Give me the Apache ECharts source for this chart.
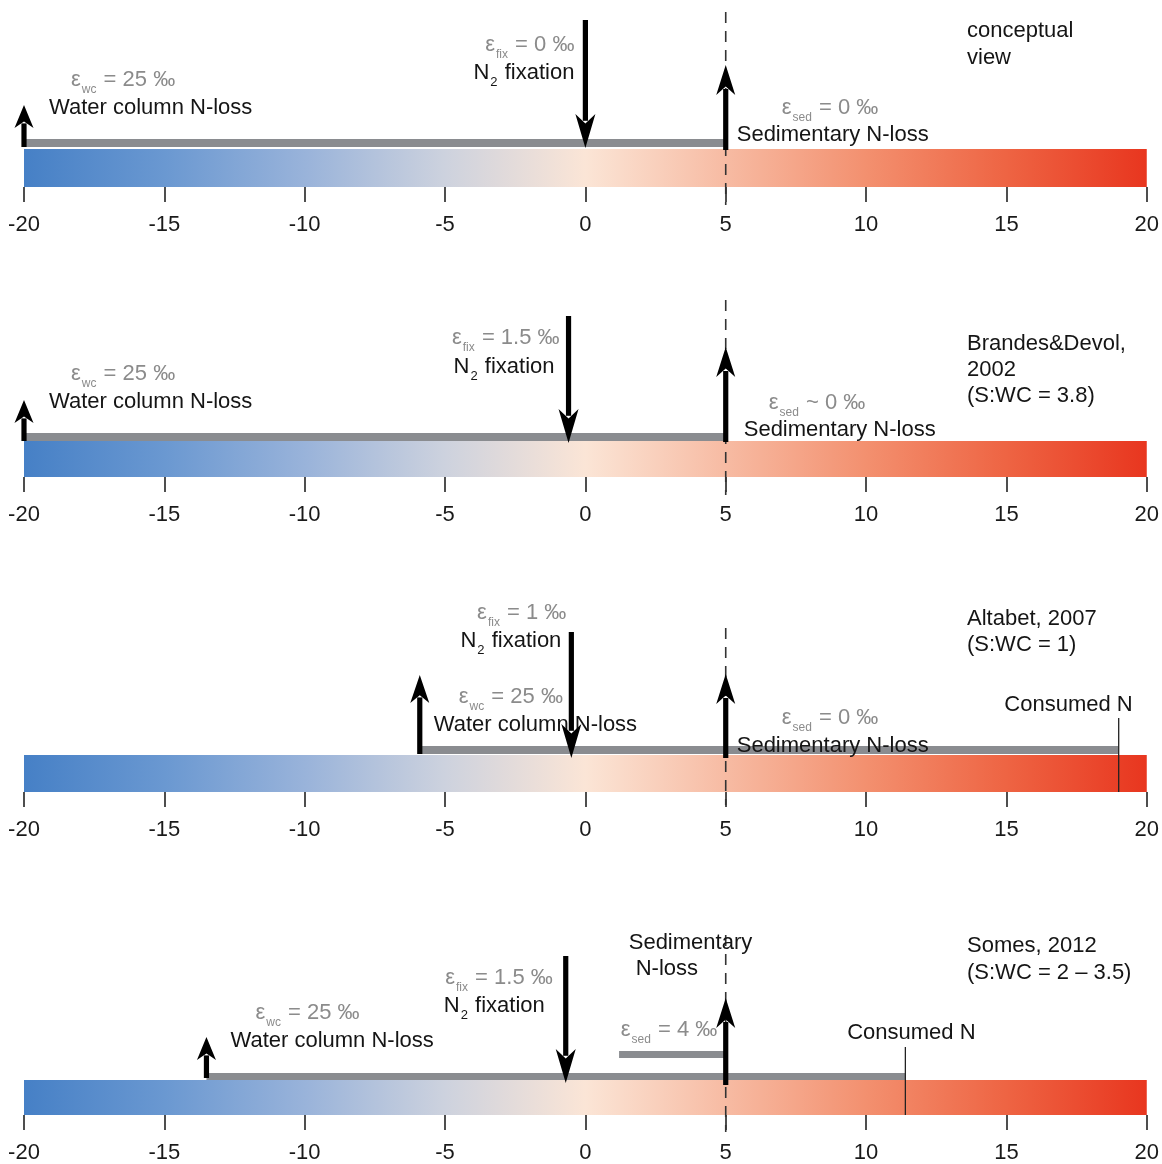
<!DOCTYPE html>
<html><head><meta charset="utf-8">
<script src="https://cdn.jsdelivr.net/npm/echarts@6/dist/echarts.min.js"></script>
<style>html,body{margin:0;padding:0;background:#fff}#chart{width:1162px;height:1164px}</style>
</head><body><div id="chart"></div>
<script>
// ---------------- data ----------------
const axisMin = -20, axisMax = 20, tickStep = 5;
const panelTitles = [
  ['conceptual', 'view'],
  ['Brandes&Devol,', '2002', '(S:WC = 3.8)'],
  ['Altabet, 2007', '(S:WC = 1)'],
  ['Somes, 2012', '(S:WC = 2 \u2013 3.5)']
];
const wcLossX   = [-20, -20, -5.9, -13.5];   // water column N-loss arrow / start of consumed range
const fixX      = [0, -0.6, -0.5, -0.7];     // N2 fixation arrow
const sedX      = [5, 5, 5, 5];              // sedimentary N-loss arrow
const refLineX  = 5;                         // dashed reference line
const consumedX = [null, null, 19, 11.4];    // consumed N marker
const sedBarStart = [null, null, null, 1.2]; // sedimentary fractionation range start
const epsWc  = ['= 25 \u2030', '= 25 \u2030', '= 25 \u2030', '= 25 \u2030'];
const epsFix = ['= 0 \u2030', '= 1.5 \u2030', '= 1 \u2030', '= 1.5 \u2030'];
const epsSed = ['= 0 \u2030', '~ 0 \u2030', '= 0 \u2030', '= 4 \u2030'];
const sedLabel = [['Sedimentary N-loss'], ['Sedimentary N-loss'], ['Sedimentary N-loss'], ['Sedimentary', 'N-loss']];

// ---------------- layout (pixels, relative to bar top / mark x) ----------------
const gridTop = [149, 441, 755, 1080];
const gridH = [38, 36, 37, 36];
const L = [
  { grey:[-10,-2], fixTop:-129, fixTip:-1, sedTip:-84, sedBase:1, wcTip:-44, wcBase:-2, wcHead:[23,19], dash:[-137,56],
    epsWc:[47,-69], wcTxt:[25,-41], epsFix:[-11,-104,'right'], fixTxt:[-11,-76,'right'],
    epsSed:[56,-41], sedTxt:[[11,-14]], title:[967,-118,27] },
  { grey:[-8,0], fixTop:-125, fixTip:2, sedTip:-94, sedBase:1, wcTip:-41, wcBase:0, wcHead:[23,19], dash:[-141,54],
    epsWc:[47,-67], wcTxt:[25,-39], epsFix:[-9,-103,'right'], fixTxt:[-14,-74,'right'],
    epsSed:[43,-38], sedTxt:[[18,-11]], title:[967,-97,26] },
  { grey:[-9,-1], fixTop:-123, fixTip:3, sedTip:-81, sedBase:3, wcTip:-80, wcBase:-1, wcHead:[28,19], dash:[-127,50],
    epsWc:[39,-58], wcTxt:[14,-30], epsFix:[-5,-142,'right'], fixTxt:[-10,-114,'right'],
    epsSed:[56,-37], sedTxt:[[11,-9]], consTxt:[14,-50,'right'], consTop:-37, title:[967,-136,26] },
  { grey:[-7,0], fixTop:-124, fixTip:3, sedTip:-82, sedBase:5, wcTip:-43, wcBase:-2, wcHead:[23,19], dash:[-145,52],
    epsWc:[49,-67], wcTxt:[24,-39], epsFix:[-13,-102,'right'], fixTxt:[-21,-74,'right'],
    epsSed:[-105,-50], sedTxt:[[-97,-137],[-90,-111]], sedBar:[-29,-22], consTxt:[6,-47,'center'], consTop:-33, title:[967,-134,27] }
];

const FONT = '"Liberation Sans", Arial, Helvetica, sans-serif';
const GREY_TXT = '#8b8b8b';
const BLACK = '#151515';
const BAR_GREY = '#8a8c90';
const gradStops = [
  { offset: 0, color: '#4680c6' },
  { offset: 0.125, color: '#6a98d1' },
  { offset: 0.25, color: '#99b3da' },
  { offset: 0.375, color: '#cdd2de' },
  { offset: 0.5, color: '#fbe5d6' },
  { offset: 0.625, color: '#f7bba3' },
  { offset: 0.75, color: '#f3906f' },
  { offset: 0.875, color: '#ee6443' },
  { offset: 1, color: '#e8361f' }
];

const richBase = {
  g:  { fill: GREY_TXT, fontSize: 22, fontFamily: FONT, lineHeight: 26, verticalAlign: 'top' },
  gs: { fill: GREY_TXT, fontSize: 12, fontFamily: FONT, lineHeight: 12, verticalAlign: 'top', padding: [15, 1, 0, 1] },
  k:  { fill: BLACK, fontSize: 22, fontFamily: FONT, lineHeight: 26, verticalAlign: 'top' },
  ks: { fill: BLACK, fontSize: 13, fontFamily: FONT, lineHeight: 13, verticalAlign: 'top', padding: [14, 1, 0, 1] }
};

function text(x, y, str, align) {
  const dy = str.indexOf('{') >= 0 ? 2 : 0;
  return { type: 'text', x: x, y: y + dy, z2: 20,
    style: { text: str, fill: BLACK, fontSize: 22, fontFamily: FONT,
      align: align || 'left', verticalAlign: 'middle', rich: richBase } };
}
function arrow(x, base, tip, headLen, headW) {
  const dir = tip < base ? 1 : -1; // 1 = pointing up
  const neck = tip + dir * headLen * 0.8;
  const shaftTop = Math.min(base, neck), shaftBot = Math.max(base, neck);
  return [
    { type: 'rect', z2: 30, shape: { x: x - 2.6, y: shaftTop, width: 5.2, height: shaftBot - shaftTop }, style: { fill: '#000' } },
    { type: 'polygon', z2: 31, shape: { points: [[x, tip], [x - headW / 2, tip + dir * headLen], [x, tip + dir * headLen * 0.72], [x + headW / 2, tip + dir * headLen]] }, style: { fill: '#000' } }
  ];
}

function renderPanel(i, api) {
  const lay = L[i];
  const X = v => api.coord([v, 0])[0];
  const top = api.coord([axisMin, 1])[1];
  const bot = api.coord([axisMin, 0])[1];
  const x0 = X(axisMin), x1 = X(axisMax);
  const ch = [];
  // gradient bar
  ch.push({ type: 'rect', z2: 1, shape: { x: x0, y: top, width: x1 - x0, height: bot - top },
    style: { fill: new echarts.graphic.LinearGradient(0, 0, 1, 0, gradStops) } });
  // grey consumed range
  const gEnd = consumedX[i] != null ? consumedX[i] : sedX[i];
  ch.push({ type: 'rect', z2: 2, shape: { x: X(wcLossX[i]), y: top + lay.grey[0], width: X(gEnd) - X(wcLossX[i]), height: lay.grey[1] - lay.grey[0] },
    style: { fill: BAR_GREY } });
  if (sedBarStart[i] != null) {
    ch.push({ type: 'rect', z2: 2, shape: { x: X(sedBarStart[i]), y: top + lay.sedBar[0], width: X(sedX[i]) - X(sedBarStart[i]), height: lay.sedBar[1] - lay.sedBar[0] },
      style: { fill: BAR_GREY } });
  }
  // dashed reference line
  const rx = X(refLineX);
  ch.push({ type: 'line', z2: 5, shape: { x1: rx, y1: top + lay.dash[0], x2: rx, y2: top + lay.dash[1] },
    style: { stroke: '#333', lineWidth: 1.6, lineDash: [11, 8] } });
  // consumed N marker
  if (consumedX[i] != null) {
    const cx = X(consumedX[i]);
    ch.push({ type: 'line', z2: 6, shape: { x1: cx, y1: top + lay.consTop, x2: cx, y2: bot },
      style: { stroke: '#222', lineWidth: 1.3 } });
    ch.push(text(cx + lay.consTxt[0], top + lay.consTxt[1], 'Consumed N', lay.consTxt[2]));
  }
  // labels
  const wx = X(wcLossX[i]), fx = X(fixX[i]), sx = X(sedX[i]);
  ch.push(text(wx + lay.epsWc[0], top + lay.epsWc[1], '{g|\u03b5}{gs|wc}{g| ' + epsWc[i] + '}'));
  ch.push(text(wx + lay.wcTxt[0], top + lay.wcTxt[1], 'Water column N-loss'));
  ch.push(text(fx + lay.epsFix[0], top + lay.epsFix[1], '{g|\u03b5}{gs|fix}{g| ' + epsFix[i] + '}', lay.epsFix[2]));
  ch.push(text(fx + lay.fixTxt[0], top + lay.fixTxt[1], '{k|N}{ks|2}{k| fixation}', lay.fixTxt[2]));
  ch.push(text(sx + lay.epsSed[0], top + lay.epsSed[1], '{g|\u03b5}{gs|sed}{g| ' + epsSed[i] + '}'));
  sedLabel[i].forEach((s, j) => ch.push(text(sx + lay.sedTxt[j][0], top + lay.sedTxt[j][1], s)));
  // panel title
  panelTitles[i].forEach((s, j) => ch.push(text(lay.title[0], top + lay.title[1] + j * lay.title[2], s)));
  // arrows
  ch.push(...arrow(fx, top + lay.fixTop, top + lay.fixTip, 34, 20));
  ch.push(...arrow(sx, top + lay.sedBase, top + lay.sedTip, 30, 19));
  ch.push(...arrow(wx, top + lay.wcBase, top + lay.wcTip, lay.wcHead[0], lay.wcHead[1]));
  return { type: 'group', children: ch };
}

const grids = [], xAxes = [], yAxes = [], series = [];
for (let i = 0; i < 4; i++) {
  grids.push({ left: 24, right: 14, top: gridTop[i], height: gridH[i] });
  xAxes.push({ type: 'value', gridIndex: i, min: axisMin, max: axisMax, interval: tickStep, offset: 3,
    axisLine: { show: false }, splitLine: { show: false },
    axisTick: { show: true, length: 15, lineStyle: { color: '#222', width: 1.6 } },
    axisLabel: { fontSize: 22, color: '#1a1a1a', fontFamily: FONT, margin: 24 } });
  yAxes.push({ type: 'value', gridIndex: i, min: 0, max: 1, show: false });
  series.push({ type: 'custom', xAxisIndex: i, yAxisIndex: i, clip: false, silent: true,
    data: [[0, 0]], renderItem: (p, api) => renderPanel(i, api) });
}

const chart = echarts.init(document.getElementById('chart'), null, { renderer: 'canvas' });
chart.setOption({ animation: false, backgroundColor: '#fff', grid: grids, xAxis: xAxes, yAxis: yAxes, series: series });
</script>
</body></html>
